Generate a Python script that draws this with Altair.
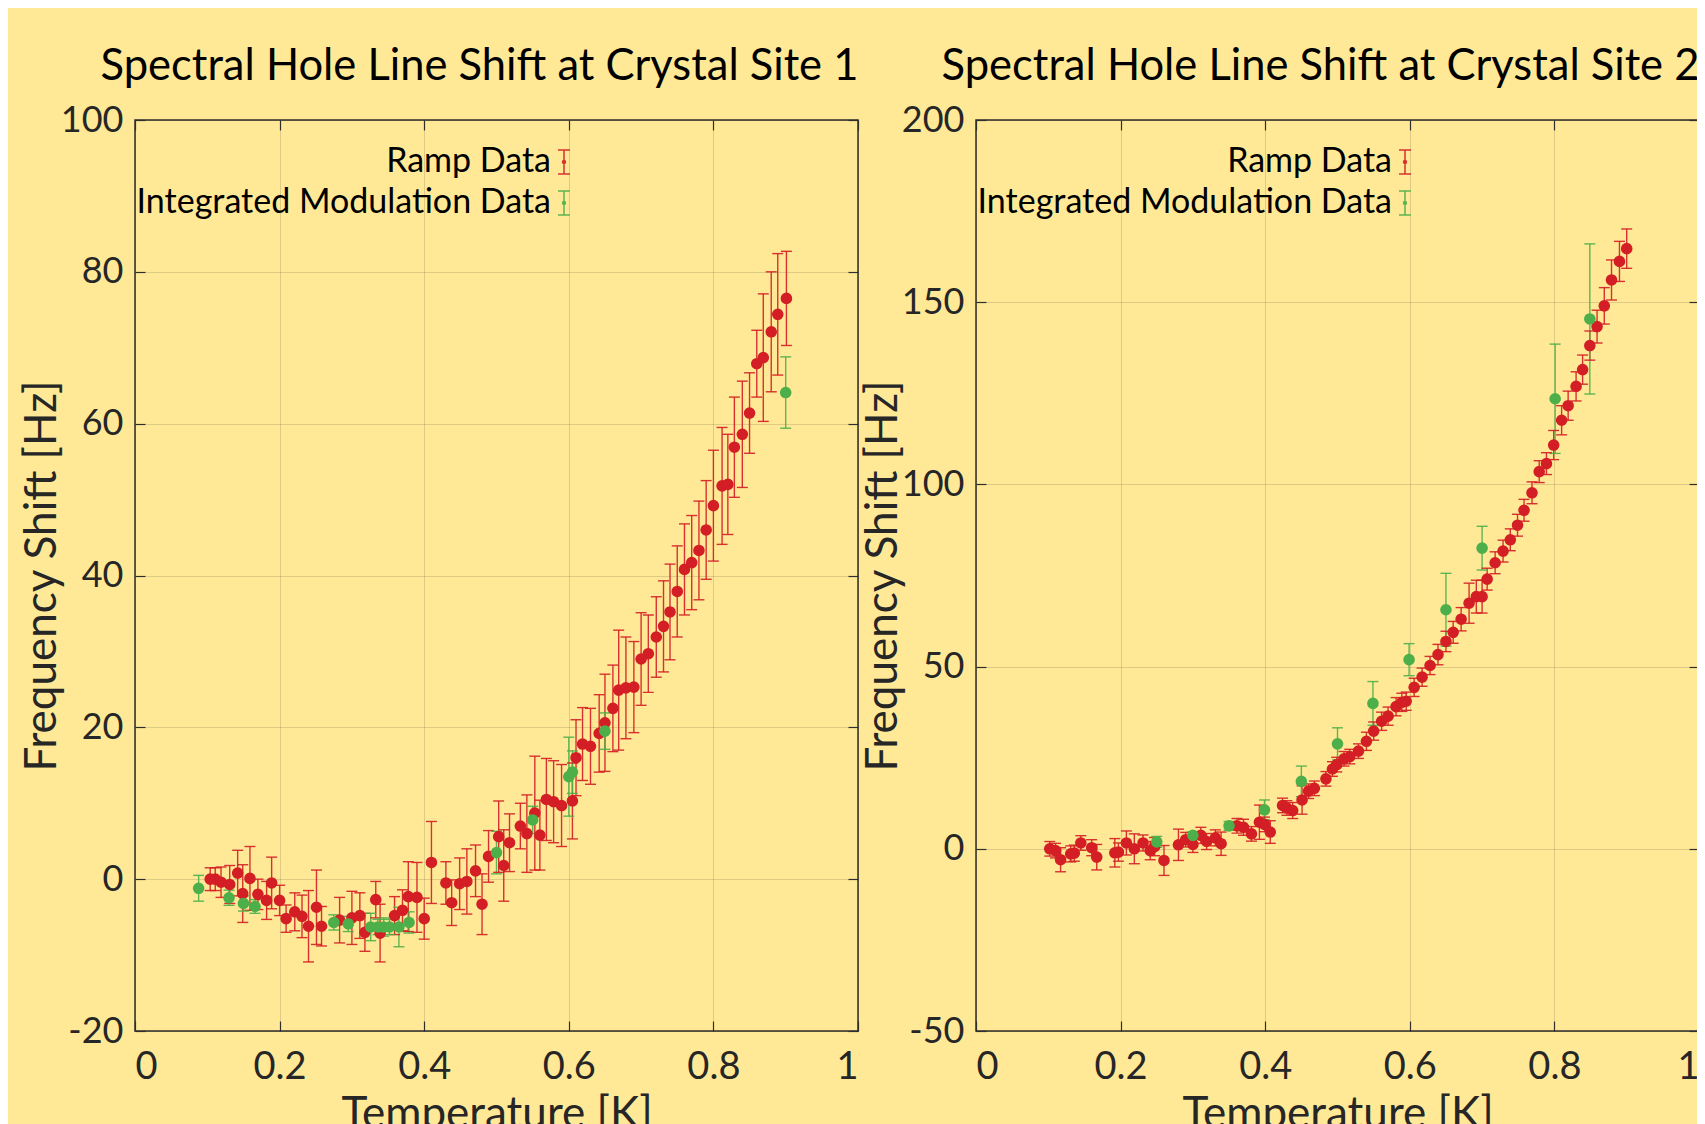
import altair as alt
import pandas as pd

# ---------------- data ----------------
SERIES = ["Ramp Data", "Integrated Modulation Data"]

# Site 1 - ramp data
s1_ramp_T = [0.104, 0.111, 0.119, 0.131, 0.142, 0.149, 0.159, 0.170, 0.182, 0.189,
             0.200, 0.209, 0.221, 0.231, 0.240, 0.251, 0.258, 0.283, 0.300, 0.311,
             0.318, 0.333, 0.339, 0.359, 0.370, 0.378, 0.390, 0.400, 0.410, 0.430,
             0.438, 0.449, 0.459, 0.471, 0.480, 0.489, 0.503, 0.510, 0.518, 0.533,
             0.542, 0.553, 0.560, 0.569, 0.579, 0.590, 0.605, 0.610, 0.619, 0.630,
             0.642, 0.650, 0.661, 0.669, 0.679, 0.690, 0.700, 0.710, 0.721, 0.731,
             0.740, 0.750, 0.760, 0.770, 0.780, 0.790, 0.800, 0.812, 0.820, 0.829,
             0.840, 0.850, 0.860, 0.869, 0.880, 0.889, 0.901]
s1_ramp_F = [0.0, 0.0, -0.4, -0.7, 0.8, -1.9, 0.1, -2.0, -2.8, -0.5,
             -2.8, -5.2, -4.3, -4.9, -6.2, -3.7, -6.2, -5.4, -5.1, -4.8,
             -7.0, -2.7, -7.1, -4.8, -4.1, -2.3, -2.4, -5.2, 2.2, -0.5,
             -3.1, -0.6, -0.3, 1.1, -3.3, 3.0, 5.6, 1.8, 4.8, 7.0,
             6.0, 8.7, 5.8, 10.5, 10.2, 9.7, 10.3, 16.0, 17.8, 17.5,
             19.2, 20.6, 22.5, 24.9, 25.2, 25.3, 29.0, 29.7, 31.9, 33.3,
             35.2, 37.9, 40.8, 41.7, 43.3, 46.0, 49.2, 51.8, 52.0, 56.9,
             58.6, 61.4, 67.9, 68.7, 72.1, 74.4, 76.5]
s1_ramp_E = [1.5, 1.5, 2.0, 2.5, 3.0, 3.8, 4.2, 2.0, 2.5, 3.4,
             2.0, 1.8, 2.5, 2.8, 4.7, 4.9, 2.6, 3.0, 3.5, 3.0,
             2.5, 2.4, 3.8, 2.5, 2.7, 4.6, 4.6, 2.7, 5.4, 2.8,
             3.0, 3.4, 4.3, 3.4, 4.0, 3.4, 4.7, 4.7, 3.8, 3.0,
             5.1, 7.5, 4.6, 5.4, 5.4, 5.4, 5.0, 5.0, 4.8, 5.0,
             5.1, 6.4, 5.7, 7.9, 6.7, 6.0, 6.1, 5.1, 5.3, 6.0,
             6.3, 6.0, 6.0, 6.2, 6.5, 6.5, 7.3, 7.7, 6.6, 6.6,
             7.0, 5.3, 4.4, 8.4, 7.9, 8.0, 6.2]

# Site 1 - integrated modulation data
s1_mod_T = [0.088, 0.130, 0.150, 0.166, 0.275, 0.295, 0.326, 0.336, 0.344, 0.352,
            0.365, 0.379, 0.500, 0.550, 0.600, 0.605, 0.650, 0.900]
s1_mod_F = [-1.2, -2.45, -3.2, -3.6, -5.7, -5.9, -6.3, -6.3, -6.3, -6.3,
            -6.3, -5.7, 3.5, 7.8, 13.5, 14.1, 19.5, 64.1]
s1_mod_E = [1.7, 1.0, 1.0, 0.9, 1.0, 1.0, 1.8, 1.0, 1.2, 1.0,
            2.6, 1.4, 2.8, 1.8, 5.2, 2.8, 2.4, 4.7]

# Site 2 - ramp data
s2_ramp_T = [0.102, 0.110, 0.117, 0.131, 0.136, 0.145, 0.160, 0.167, 0.192, 0.197,
             0.208, 0.219, 0.231, 0.241, 0.247, 0.260, 0.280, 0.290, 0.300, 0.311,
             0.319, 0.331, 0.339, 0.361, 0.370, 0.381, 0.392, 0.399, 0.407, 0.424,
             0.430, 0.438, 0.451, 0.460, 0.468, 0.484, 0.493, 0.499, 0.509, 0.517,
             0.529, 0.540, 0.550, 0.561, 0.570, 0.581, 0.589, 0.595, 0.606, 0.617,
             0.628, 0.639, 0.650, 0.660, 0.671, 0.682, 0.692, 0.700, 0.707, 0.718,
             0.729, 0.739, 0.749, 0.758, 0.769, 0.779, 0.789, 0.799, 0.810, 0.819,
             0.830, 0.839, 0.849, 0.859, 0.869, 0.879, 0.890, 0.900]
s2_ramp_F = [0.0, -0.5, -3.0, -1.4, -1.2, 1.6, 0.3, -2.3, -1.1, -0.9,
             1.6, 0.0, 1.6, -0.5, 0.6, -3.2, 1.1, 2.5, 1.2, 3.7,
             2.0, 3.0, 1.4, 6.3, 5.9, 4.1, 7.3, 6.7, 4.6, 11.9,
             11.2, 10.5, 13.4, 15.8, 16.6, 19.2, 21.9, 23.1, 24.7, 25.3,
             26.8, 29.5, 32.3, 35.0, 36.4, 39.0, 40.2, 40.5, 44.3, 47.1,
             50.3, 53.3, 56.9, 59.4, 63.0, 67.4, 69.2, 69.2, 74.0, 78.5,
             81.7, 84.8, 88.8, 92.9, 97.7, 103.5, 105.7, 110.8, 117.6, 121.6,
             126.9, 131.5, 138.1, 143.3, 149.0, 156.1, 161.2, 164.7]
s2_ramp_E = [2.0, 2.0, 3.3, 2.2, 2.2, 2.0, 2.2, 3.5, 3.9, 2.5,
             3.3, 4.1, 2.2, 2.5, 2.5, 4.1, 4.3, 2.0, 2.2, 2.2,
             2.2, 2.2, 3.2, 2.0, 2.2, 2.0, 4.7, 2.0, 3.1, 2.0,
             2.0, 2.2, 3.9, 2.0, 2.0, 2.0, 2.0, 2.0, 2.0, 2.0,
             2.0, 2.5, 2.5, 2.5, 2.5, 2.5, 2.5, 2.5, 2.5, 2.5,
             2.5, 2.8, 2.8, 3.0, 3.2, 5.5, 4.5, 4.5, 3.0, 3.0,
             3.0, 3.0, 3.0, 3.0, 3.0, 3.0, 3.0, 4.0, 4.0, 4.0,
             4.0, 4.0, 4.0, 4.5, 5.0, 5.5, 5.5, 5.4]

# Site 2 - integrated modulation data
s2_mod_T = [0.250, 0.300, 0.350, 0.399, 0.450, 0.500, 0.549, 0.599, 0.650, 0.700,
            0.801, 0.849]
s2_mod_F = [1.9, 3.7, 6.3, 10.7, 18.5, 28.8, 39.9, 51.9, 65.6, 82.5,
            123.5, 145.4]
s2_mod_E = [1.5, 1.0, 1.2, 2.7, 4.2, 4.4, 6.0, 4.4, 10.0, 6.0,
            15.0, 20.6]

X_TICKS = [0, 0.2, 0.4, 0.6, 0.8, 1]
Y1_TICKS = [-20, 0, 20, 40, 60, 80, 100]
Y2_TICKS = [-50, 0, 50, 100, 150, 200]

TITLES = ["Spectral Hole Line Shift at Crystal Site 1",
          "Spectral Hole Line Shift at Crystal Site 2"]
X_TITLE = "Temperature [K]"
Y_TITLE = "Frequency Shift [Hz]"

# ---------------- style ----------------
FONT = "Lato, sans-serif"
BG = "#FFE996"
RED = "#D31E25"
GREEN = "#4DAF4A"
FRAME = "#2E2E2E"
ERRBAR_PATH = ("M-0.5,-1H0.5M0,-1V1M-0.5,1H0.5"
               "M0.12,0A0.12,0.12,0,1,1,-0.12,0A0.12,0.12,0,1,1,0.12,0Z")
W, H = 723, 911
INWARD = 10
NEG_INWARD = {"expr": "-10"}


def panel(rT, rF, rE, mT, mF, mE, y_ticks, title):
    df = pd.DataFrame({
        "T": rT + mT,
        "F": rF + mF,
        "E": rE + mE,
        "series": [SERIES[0]] * len(rT) + [SERIES[1]] * len(mT),
    })
    df["lo"] = df["F"] - df["E"]
    df["hi"] = df["F"] + df["E"]

    xs = alt.Scale(domain=[X_TICKS[0], X_TICKS[-1]], nice=False, zero=False)
    ys = alt.Scale(domain=[y_ticks[0], y_ticks[-1]], nice=False, zero=False)
    cs = alt.Scale(domain=SERIES, range=[RED, GREEN])
    ylab = "datum.value < 0 ? '-' + (-datum.value) : '' + datum.value"

    x_axis = alt.Axis(values=X_TICKS, format="~g", title=X_TITLE, grid=True,
                      domain=False, offset=NEG_INWARD, tickSize=INWARD,
                      labelPadding=17, labelFontSize=38,
                      titleY=71, titleBaseline="top")
    y_axis = alt.Axis(values=y_ticks, labelExpr=ylab, title=Y_TITLE, grid=True,
                      domain=False, offset=NEG_INWARD, tickSize=INWARD,
                      labelPadding=12, labelFontSize=36,
                      titleX=-103, titleBaseline="middle")
    x_top = alt.Axis(orient="top", values=X_TICKS, labels=False, title=None,
                     grid=False, domain=False, offset=NEG_INWARD, tickSize=INWARD)
    y_right = alt.Axis(orient="right", values=y_ticks, labels=False, title=None,
                       grid=False, domain=False, offset=NEG_INWARD, tickSize=INWARD)

    legend = alt.Legend(
        orient="none", legendX=412, legendY=25, title=None, padding=0,
        symbolType=ERRBAR_PATH, symbolSize=576, symbolStrokeWidth=1.5,
        labelAlign="right", labelOffset={"expr": "-30"}, labelFont=FONT,
        labelFontSize=34, labelColor="black", rowPadding=7, labelLimit=0,
    )

    base = alt.Chart(df)
    bars = base.mark_rule(strokeWidth=1.4, opacity=0.9).encode(
        x=alt.X("T:Q", scale=xs, axis=x_axis),
        y=alt.Y("lo:Q", scale=ys, axis=y_axis),
        y2="hi:Q",
        color=alt.Color("series:N", scale=cs, legend=legend),
    )
    cap_lo = base.mark_tick(orient="horizontal", size=11, thickness=1.4,
                            opacity=0.9).encode(
        x=alt.X("T:Q", axis=None),
        y=alt.Y("lo:Q", axis=None),
        color=alt.Color("series:N", scale=cs, legend=None),
    )
    cap_hi = base.mark_tick(orient="horizontal", size=11, thickness=1.4,
                            opacity=0.9).encode(
        x=alt.X("T:Q", axis=None),
        y=alt.Y("hi:Q", axis=None),
        color=alt.Color("series:N", scale=cs, legend=None),
    )
    pts = base.mark_circle(size=135, opacity=1).encode(
        x=alt.X("T:Q", axis=x_top),
        y=alt.Y("F:Q", axis=y_right),
        color=alt.Color("series:N", scale=cs, legend=None),
    )
    return alt.layer(bars, cap_lo, cap_hi, pts).resolve_axis(
        x="independent", y="independent"
    ).properties(
        width=W, height=H,
        title=alt.TitleParams(title, font=FONT, fontSize=43.5, fontWeight="normal",
                              color="black", anchor="middle", offset=13, dx=-17),
    )


left = panel(s1_ramp_T, s1_ramp_F, s1_ramp_E, s1_mod_T, s1_mod_F, s1_mod_E,
             Y1_TICKS, TITLES[0])
right = panel(s2_ramp_T, s2_ramp_F, s2_ramp_E, s2_mod_T, s2_mod_F, s2_mod_E,
              Y2_TICKS, TITLES[1])

SVG_W, SVG_H = 1689, 1108
PAD_L, PAD_T = 127, 112

chart = alt.hconcat(left, right, spacing=0).resolve_scale(
    color="independent"
).properties(
    background=BG,
    autosize=alt.AutoSizeParams(type="none"),
    padding={"left": PAD_L, "top": PAD_T, "right": SVG_W - PAD_L,
             "bottom": SVG_H - PAD_T},
).configure_view(
    stroke=FRAME, strokeWidth=1.5, fill=BG,
).configure_axis(
    labelFont=FONT, labelColor="#262626",
    titleFont=FONT, titleFontSize=44, titleFontWeight="normal", titleColor="#262626",
    tickColor=FRAME, tickWidth=1.2,
    gridColor="#000000", gridOpacity=0.13, gridWidth=1,
)

chart.save("out.html", embed_options={"renderer": "svg", "actions": False})
